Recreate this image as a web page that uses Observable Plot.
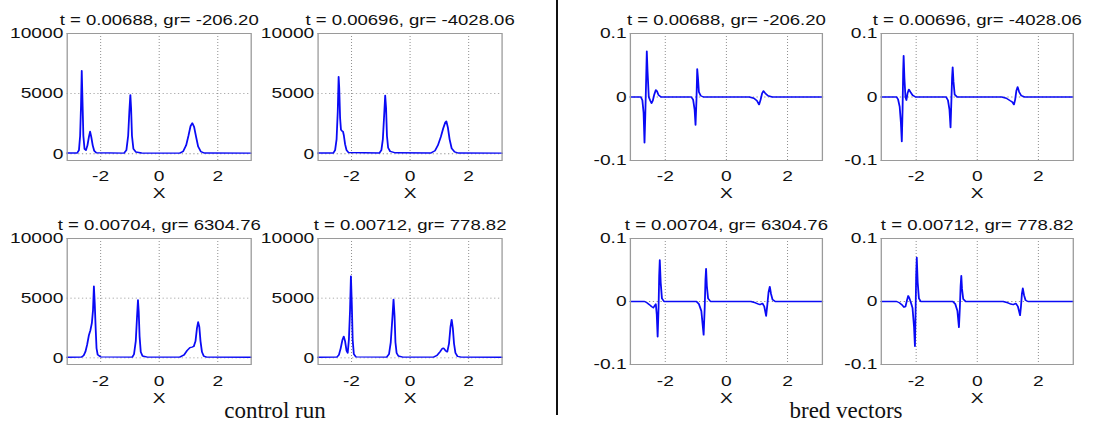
<!DOCTYPE html>
<html>
<head>
<meta charset="utf-8">
<script src="https://cdn.jsdelivr.net/npm/d3@7"></script>
<script src="https://cdn.jsdelivr.net/npm/@observablehq/plot@0.6"></script>
<style>
  html, body { margin: 0; padding: 0; background: #fff; }
  #wrap { position: relative; width: 1094px; height: 425px; background: #fff; overflow: hidden; }
  #fig { position: absolute; left: 0; top: 0; height: 425px; transform-origin: 0 0; }
  #fig svg { position: absolute; overflow: visible; }
  .cap { position: absolute; font-family: "Liberation Serif", "Times New Roman", serif; font-size: 23px; color: #111; white-space: nowrap; transform: translateX(-50%); line-height: 1; }
  #divider { position: absolute; left: 556px; top: 0; width: 1.5px; height: 415px; background: #111; }
</style>
</head>
<body>
<div id="wrap">
  <div id="fig"></div>
  <div id="divider"></div>
  <div class="cap" id="cap0" style="left:275px; top:399px;"></div>
  <div class="cap" id="cap1" style="left:846px; top:399px;"></div>
</div>
<script>
// ---- data ----
const titles = [
  "t = 0.00688, gr= -206.20",
  "t = 0.00696, gr= -4028.06",
  "t = 0.00704, gr= 6304.76",
  "t = 0.00712, gr= 778.82"
];
const xTicks = [-2, 0, 2];
const controlYTicks = [0, 5000, 10000];
const bredYTicks = [-0.1, 0, 0.1];
const captions = ["control run", "bred vectors"];

// control run, t = 0.00688
const control1 = [[-3.14,60],[-2.80,60],[-2.74,300],[-2.70,1500],[-2.67,4000],[-2.645,6900],[-2.62,4500],[-2.59,1500],[-2.55,400],[-2.50,300],[-2.45,700],[-2.40,1400],[-2.36,1850],[-2.32,1400],[-2.27,700],[-2.22,250],[-2.15,80],[-1.20,50],[-1.12,300],[-1.06,1500],[-1.02,3500],[-0.985,4900],[-0.96,3800],[-0.93,1500],[-0.88,400],[-0.80,150],[-0.60,60],[0.70,50],[0.82,200],[0.92,700],[1.00,1500],[1.07,2300],[1.13,2550],[1.19,2250],[1.26,1400],[1.33,600],[1.42,180],[1.55,60],[3.14,50]];
// control run, t = 0.00696
const control2 = [[-3.14,60],[-2.62,60],[-2.56,300],[-2.51,1200],[-2.47,3500],[-2.44,6400],[-2.42,5500],[-2.39,3000],[-2.36,2000],[-2.33,1900],[-2.29,1850],[-2.26,1500],[-2.22,800],[-2.17,300],[-2.10,100],[-1.05,60],[-0.98,300],[-0.93,1200],[-0.89,3000],[-0.85,4850],[-0.82,3800],[-0.79,1500],[-0.75,500],[-0.68,200],[-0.50,80],[0.70,60],[0.85,250],[0.95,700],[1.05,1400],[1.13,2100],[1.20,2600],[1.24,2700],[1.29,2200],[1.35,1200],[1.42,450],[1.52,150],[1.65,60],[3.14,50]];
// control run, t = 0.00704
const control3 = [[-3.14,50],[-2.65,60],[-2.58,200],[-2.52,500],[-2.46,1100],[-2.40,1900],[-2.35,2300],[-2.30,2900],[-2.26,4000],[-2.23,6000],[-2.20,4500],[-2.17,2500],[-2.14,800],[-2.10,250],[-2.00,80],[-0.92,60],[-0.86,300],[-0.80,1400],[-0.76,3300],[-0.725,4850],[-0.70,3900],[-0.67,1800],[-0.63,500],[-0.57,150],[-0.40,60],[0.70,60],[0.85,250],[0.95,600],[1.05,850],[1.12,900],[1.18,950],[1.24,1400],[1.29,2500],[1.33,3000],[1.37,2600],[1.41,1400],[1.46,500],[1.52,150],[1.62,60],[3.14,50]];
// control run, t = 0.00712
const control4 = [[-3.14,50],[-2.50,60],[-2.43,250],[-2.37,800],[-2.31,1500],[-2.265,1800],[-2.22,1400],[-2.17,600],[-2.13,400],[-2.09,1500],[-2.05,4000],[-2.02,6850],[-1.99,4500],[-1.96,1500],[-1.92,300],[-1.85,80],[-0.80,60],[-0.72,300],[-0.66,1300],[-0.60,3500],[-0.565,4900],[-0.53,3500],[-0.50,1300],[-0.46,400],[-0.40,150],[-0.25,60],[0.80,60],[0.92,200],[1.02,500],[1.10,780],[1.15,800],[1.21,600],[1.27,500],[1.33,1200],[1.38,2600],[1.42,3200],[1.46,2500],[1.50,1200],[1.55,400],[1.62,120],[1.75,60],[3.14,50]];

// bred vectors, t = 0.00688
const bred1 = [[-3.14,0],[-2.80,0],[-2.75,-0.005],[-2.71,-0.025],[-2.68,-0.072],[-2.655,-0.03],[-2.63,0.02],[-2.605,0.072],[-2.58,0.04],[-2.54,0.0],[-2.49,-0.006],[-2.45,-0.010],[-2.41,-0.006],[-2.36,0.004],[-2.31,0.011],[-2.27,0.009],[-2.22,0.003],[-2.14,0],[-1.15,0],[-1.09,-0.004],[-1.04,-0.02],[-1.01,-0.044],[-0.98,-0.005],[-0.955,0.044],[-0.93,0.03],[-0.90,0.008],[-0.84,0.002],[-0.75,0],[0.75,0],[0.90,-0.002],[1.00,-0.006],[1.07,-0.012],[1.12,-0.004],[1.17,0.006],[1.21,0.0095],[1.27,0.006],[1.36,0.002],[1.50,0],[3.14,0]];
// bred vectors, t = 0.00696
const bred2 = [[-3.14,0],[-2.64,0],[-2.59,-0.004],[-2.54,-0.015],[-2.50,-0.04],[-2.47,-0.07],[-2.445,-0.02],[-2.425,0.04],[-2.41,0.065],[-2.385,0.03],[-2.35,0.0],[-2.32,-0.005],[-2.28,0.006],[-2.24,0.012],[-2.19,0.008],[-2.12,0.003],[-2.02,0],[-1.02,0],[-0.96,-0.005],[-0.91,-0.02],[-0.875,-0.048],[-0.85,-0.01],[-0.825,0.03],[-0.805,0.047],[-0.78,0.025],[-0.74,0.004],[-0.66,0],[0.80,0],[0.95,-0.002],[1.08,-0.006],[1.15,-0.008],[1.20,-0.012],[1.24,-0.004],[1.28,0.01],[1.32,0.016],[1.37,0.008],[1.44,0.002],[1.55,0],[3.14,0]];
// bred vectors, t = 0.00704
const bred3 = [[-3.14,0],[-2.68,0],[-2.60,-0.002],[-2.52,-0.005],[-2.45,-0.008],[-2.39,-0.010],[-2.34,-0.006],[-2.31,-0.004],[-2.28,-0.02],[-2.25,-0.056],[-2.22,-0.01],[-2.20,0.04],[-2.18,0.066],[-2.15,0.03],[-2.11,0.005],[-2.04,0],[-0.98,0],[-0.90,-0.004],[-0.82,-0.015],[-0.745,-0.053],[-0.71,-0.01],[-0.685,0.035],[-0.665,0.052],[-0.64,0.025],[-0.60,0.005],[-0.52,0],[0.80,0],[0.95,-0.002],[1.05,-0.004],[1.10,-0.005],[1.18,-0.003],[1.24,-0.008],[1.30,-0.023],[1.34,-0.005],[1.38,0.015],[1.42,0.0235],[1.46,0.012],[1.51,0.003],[1.60,0],[3.14,0]];
// bred vectors, t = 0.00712
const bred4 = [[-3.14,0],[-2.64,0],[-2.55,-0.002],[-2.47,-0.005],[-2.40,-0.009],[-2.35,-0.008],[-2.30,0.002],[-2.26,0.009],[-2.22,0.005],[-2.17,-0.002],[-2.12,-0.01],[-2.07,-0.04],[-2.04,-0.071],[-2.02,-0.02],[-2.00,0.04],[-1.98,0.070],[-1.95,0.03],[-1.91,0.005],[-1.85,0],[-0.80,0],[-0.72,-0.004],[-0.65,-0.015],[-0.60,-0.041],[-0.57,-0.01],[-0.545,0.025],[-0.523,0.041],[-0.50,0.02],[-0.46,0.004],[-0.38,0],[0.85,0],[1.00,-0.002],[1.10,-0.004],[1.18,-0.005],[1.26,-0.003],[1.33,-0.008],[1.40,-0.022],[1.43,-0.008],[1.46,0.012],[1.49,0.021],[1.53,0.01],[1.58,0.002],[1.66,0],[3.14,0]];

// ---- layout ----
document.getElementById("cap0").textContent = captions[0];
document.getElementById("cap1").textContent = captions[1];

const S = 1.28; // horizontal stretch of the figure panels
const fig = document.getElementById("fig");
fig.style.width = (1094 / S) + "px";
fig.style.transform = `scaleX(${S})`;

const mL = 60, mR = 16, mT = 30, mB = 52;

function panel(rows, cfg) {
  const w = cfg.W / S;
  const data = rows.map(([x, y]) => ({x, y}));
  const chart = Plot.plot({
    width: w + mL + mR,
    height: cfg.H + mT + mB,
    marginLeft: mL, marginRight: mR, marginTop: mT, marginBottom: mB,
    style: {fontFamily: "'Liberation Sans', Arial, sans-serif", fontSize: "15px", color: "#111", background: "transparent", overflow: "visible"},
    x: {domain: [-Math.PI, Math.PI]},
    y: {domain: cfg.yDomain},
    marks: [
      Plot.gridX(xTicks, {stroke: "#777", strokeOpacity: 0.8, strokeDasharray: "1,2", strokeWidth: 0.8}),
      Plot.gridY(cfg.yTicks, {stroke: "#777", strokeOpacity: 0.8, strokeDasharray: "1,2", strokeWidth: 0.8}),
      Plot.line(data, {x: "x", y: "y", stroke: "#0a0af5", strokeWidth: 1.4}),
      Plot.frame({stroke: "#9a9a9a", strokeWidth: 1}),
      Plot.axisX(xTicks, {tickSize: 0, tickPadding: cfg.xPad, tickFormat: d => String(d), label: null, fontSize: 15}),
      Plot.axisY(cfg.yTicks, {tickSize: 0, tickPadding: 3, tickFormat: d => String(d), label: null, fontSize: 15}),
      Plot.text(["X"], {frameAnchor: "bottom", text: d => d, dy: cfg.xLabelDy, fontSize: 15, fill: "#111"}),
      Plot.text([cfg.title], {frameAnchor: "top", text: d => d, dy: -18.5, fontSize: 14.5, fill: "#111"})
    ]
  });
  chart.style.left = (cfg.L / S - mL) + "px";
  chart.style.top = (cfg.T - mT) + "px";
  fig.appendChild(chart);
}

const ctrlDomain = [-560, 10000];
const bredDomain = [-0.1, 0.1];
const panels = [
  [control1, {L: 66,  T: 33,  W: 184, H: 127, yDomain: ctrlDomain, yTicks: controlYTicks, title: titles[0], xPad: 10, xLabelDy: 37}],
  [control2, {L: 317, T: 33,  W: 184, H: 127, yDomain: ctrlDomain, yTicks: controlYTicks, title: titles[1], xPad: 10, xLabelDy: 37}],
  [control3, {L: 66,  T: 238, W: 184, H: 126, yDomain: ctrlDomain, yTicks: controlYTicks, title: titles[2], xPad: 11, xLabelDy: 38.5}],
  [control4, {L: 317, T: 238, W: 184, H: 126, yDomain: ctrlDomain, yTicks: controlYTicks, title: titles[3], xPad: 11, xLabelDy: 38.5}],
  [bred1, {L: 630, T: 33,  W: 192, H: 127, yDomain: bredDomain, yTicks: bredYTicks, title: titles[0], xPad: 10, xLabelDy: 37}],
  [bred2, {L: 881, T: 33,  W: 192, H: 127, yDomain: bredDomain, yTicks: bredYTicks, title: titles[1], xPad: 10, xLabelDy: 37}],
  [bred3, {L: 630, T: 238, W: 192, H: 126, yDomain: bredDomain, yTicks: bredYTicks, title: titles[2], xPad: 11, xLabelDy: 38.5}],
  [bred4, {L: 881, T: 238, W: 192, H: 126, yDomain: bredDomain, yTicks: bredYTicks, title: titles[3], xPad: 11, xLabelDy: 38.5}]
];
panels.forEach(([rows, cfg]) => panel(rows, cfg));
</script>
</body>
</html>
